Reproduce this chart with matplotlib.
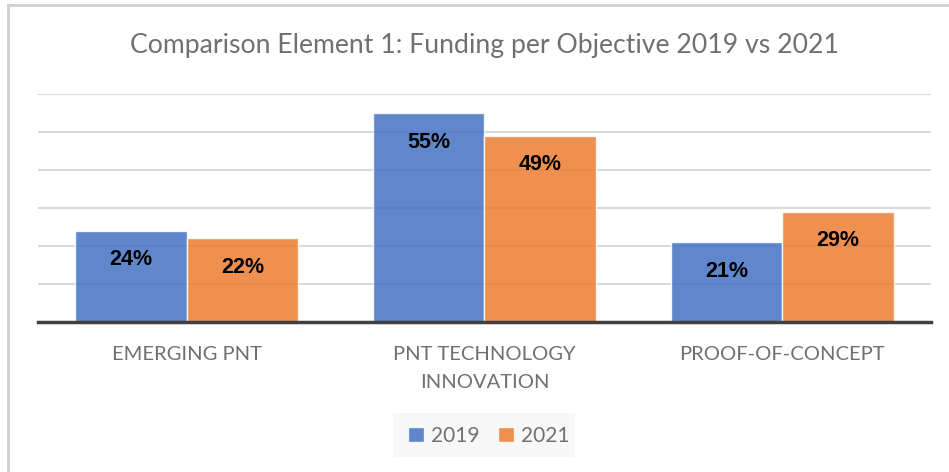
import matplotlib
matplotlib.use("Agg")
import matplotlib.pyplot as plt
from matplotlib.lines import Line2D
from matplotlib.patches import Rectangle

categories = ["EMERGING PNT", "PNT TECHNOLOGY\nINNOVATION", "PROOF-OF-CONCEPT"]
series_names = ["2019", "2021"]
values_2019 = [24, 55, 21]
values_2021 = [22, 49, 29]
title = "Comparison Element 1: Funding per Objective 2019 vs 2021"

W, H = 949, 472
fig = plt.figure(figsize=(W / 100, H / 100), dpi=100)
fig.patch.set_facecolor("white")

ax = fig.add_axes([38 / W, 1 - 322 / H, (931 - 38) / W, (322 - 94) / H])
ax.set_xlim(-0.5, 2.5)
ax.set_ylim(0, 60)

colors = ["#4472C4", "#ED7D31"]
bw = 0.375
x = range(len(categories))
for i, (vals, c) in enumerate(zip([values_2019, values_2021], colors)):
    xs = [xi + (i - 0.5) * bw for xi in x]
    ax.bar(xs, vals, width=bw, color=c, alpha=0.85, zorder=3,
           edgecolor=(1, 1, 1, 0.6), linewidth=1)
    for xx, v in zip(xs, vals):
        ax.annotate(f"{v}%", (xx, v), xytext=(0, -21), textcoords="offset points",
                    ha="center", va="center", fontsize=15.5, fontweight="bold",
                    family="Liberation Sans", color="black", zorder=5)

ax.set_yticks(range(0, 61, 10))
ax.yaxis.grid(True, color="#D9D9D9", linewidth=1.5, zorder=0)
ax.tick_params(axis="y", left=False, labelleft=False)
ax.tick_params(axis="x", bottom=False, pad=14)
ax.set_xticks(list(x))
ax.set_xticklabels(categories, fontsize=14.5, family="Lato", color="#707070",
                   linespacing=1.75, va="top")
for s in ["top", "right", "left"]:
    ax.spines[s].set_visible(False)
ax.spines["bottom"].set_color("#404040")
ax.spines["bottom"].set_linewidth(2.5)
ax.spines["bottom"].set_zorder(6)

fig.text(485 / W, 1 - 46 / H, title, ha="center", va="center", fontsize=19.2,
         family="Lato", color="#707070")

# legend
fig.patches.append(Rectangle((393 / W, 1 - 457 / H), (575 - 393) / W, 44 / H,
                             transform=fig.transFigure, facecolor="#F7F7F7",
                             edgecolor="none", zorder=0))
handles = [Rectangle((0, 0), 1, 1, facecolor=c, alpha=0.85, edgecolor=(1, 1, 1, 0.6))
           for c in colors]
leg = fig.legend(handles, series_names, loc="center", bbox_to_anchor=(489 / W, 1 - 436 / H),
                 ncol=2, frameon=False, prop={"family": "Lato", "size": 15},
                 handlelength=0.75, handleheight=0.75, handletextpad=0.35, columnspacing=0.9)
for t in leg.get_texts():
    t.set_color("#707070")

# outer border (top and left visible)
fig.add_artist(Line2D([8 / W, 8 / W], [0, 1 - 5 / H], transform=fig.transFigure,
                      color="#D0D0D0", linewidth=2))
fig.add_artist(Line2D([8 / W, 1], [1 - 5 / H, 1 - 5 / H], transform=fig.transFigure,
                      color="#D0D0D0", linewidth=2))

fig.savefig("out.png", dpi=100, facecolor="white")
